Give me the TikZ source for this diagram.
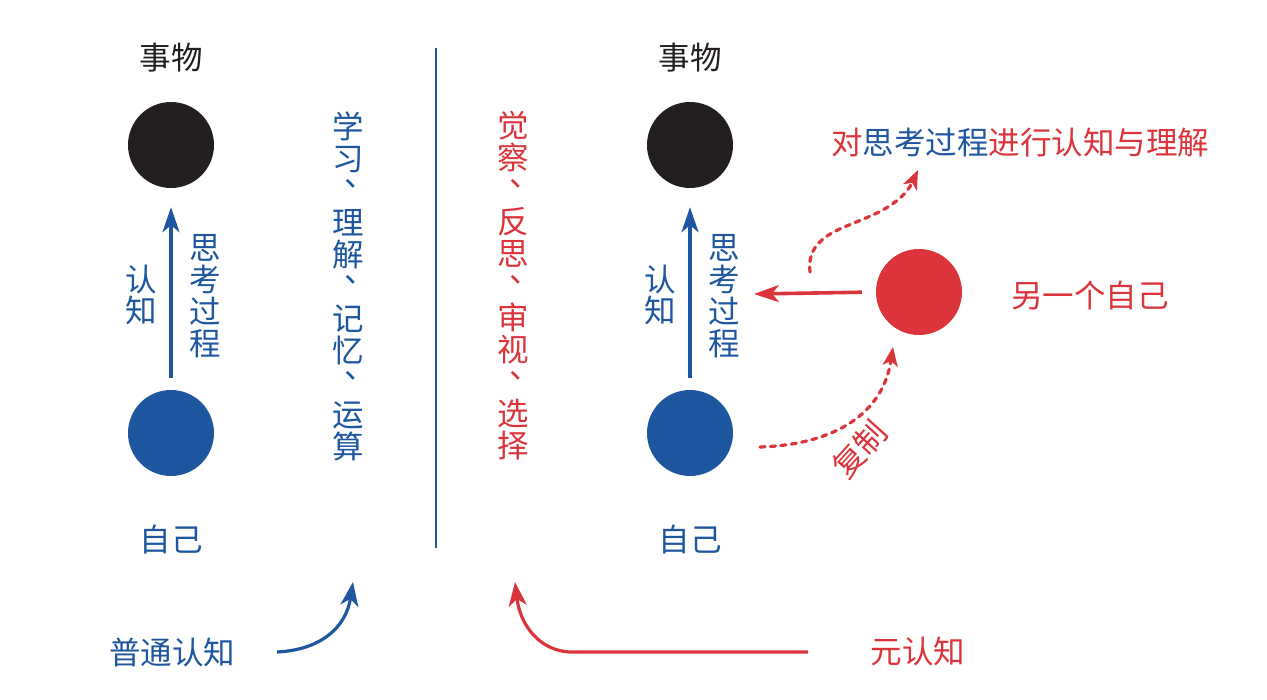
\documentclass[tikz,border=0pt]{standalone}
\usepackage{fontspec}
\setmainfont{Noto Sans CJK SC}
\usetikzlibrary{arrows.meta}
\definecolor{cblue}{RGB}{31,86,160}
\definecolor{cred}{RGB}{220,52,59}
\definecolor{cblack}{RGB}{35,31,32}
\newcommand\dunhao{\makebox[1em][l]{\hspace{0.4em}\raisebox{0.5em}{、}}}
\begin{document}
\begin{tikzpicture}[x=1pt,y=-1pt,
  dot/.style={circle,minimum size=86pt,inner sep=0pt,fill=#1},
  lbl/.style={font=\fontsize{31.5}{32}\selectfont,text=#1,inner sep=0pt,align=center},
  mainarrow/.style={draw=#1,line width=3.6pt,-{Stealth[length=25pt,width=17pt,inset=7pt]}},
  dotarrow/.style={draw=cred,line width=3.2pt,dash pattern=on 5pt off 5.5pt,line cap=round,-{Stealth[length=19pt,width=15pt,inset=5pt]}},
  curvearrow/.style={draw=#1,line width=3.2pt,-{Stealth[length=24pt,width=18pt,inset=7pt]}}]
\useasboundingbox (0,0) rectangle (1267,700);
\fill[white] (0,0) rectangle (1267,700);

% left panel
\node[dot=cblack] (thingL) at (171,145) {};
\node[dot=cblue] (selfL) at (171,433) {};
\node[lbl=cblack] (thingLt) at (171,58) {事物};
\node[lbl=cblue] (selfLt) at (171,540) {自己};
\draw[mainarrow=cblue,shorten <=12pt,shorten >=19pt] (selfL) -- (thingL);
\node[lbl=cblue] (cogL) at (141,295) {认\\知};
\node[lbl=cblue] (thinkL) at (205,296) {思\\考\\过\\程};
\node[lbl=cblue] (listL) at (348,286) {学\\习\\\dunhao\\理\\解\\\dunhao\\记\\忆\\\dunhao\\运\\算};

% divider
\coordinate (divT) at (436,48);
\coordinate (divB) at (436,548);
\draw[cblue,line width=2.2pt] (divT) -- (divB);

% right panel
\node[lbl=cred] (listR) at (513,286) {觉\\察\\\dunhao\\反\\思\\\dunhao\\审\\视\\\dunhao\\选\\择};
\node[dot=cblack] (thingR) at (690,145) {};
\node[dot=cblue] (selfR) at (690,433) {};
\node[lbl=cblack] (thingRt) at (690,58) {事物};
\node[lbl=cblue] (selfRt) at (690,540) {自己};
\draw[mainarrow=cblue,shorten <=12pt,shorten >=19pt] (selfR) -- (thingR);
\node[lbl=cblue] (cogR) at (660,295) {认\\知};
\node[lbl=cblue] (thinkR) at (724,296) {思\\考\\过\\程};

\node[dot=cred] (other) at (919,292) {};
\node[lbl=cred] (othert) at (1090,296) {另一个自己};
\coordinate (otherTip) at (754,294);
\draw[mainarrow=cred,shorten <=14pt] (other.west) -- (otherTip);

\node[lbl=cred] (meta) at (1020,143) {对{\color{cblue}思考过程}进行认知与理解};
\coordinate (upStart) at (810,272);
\coordinate (upTip) at (918,170);
\draw[dotarrow] (upStart) .. controls (806,238) and (838,230) .. (866,218)
  .. controls (890,208) and (906,196) .. (upTip);

\coordinate (cpStart) at (760,447);
\coordinate (cpTip) at (893,347);
\draw[dotarrow] (cpStart) .. controls (825,445) and (882,420) .. (cpTip);
\node[lbl=cred,rotate=48] (copy) at (860,449) {复制};

% bottom
\node[lbl=cblue] (normal) at (172,652) {普通认知};
\coordinate (nStart) at (277,652);
\coordinate (nTip) at (353,582);
\draw[curvearrow=cblue] (nStart) .. controls (320,650) and (346,628) .. (nTip);

\node[lbl=cred] (metaCog) at (918,652) {元认知};
\coordinate (mStart) at (808,652);
\coordinate (mMid) at (572,652);
\coordinate (mTip) at (515,582);
\draw[curvearrow=cred] (mStart) -- (mMid) .. controls (540,652) and (520,625) .. (mTip);
\end{tikzpicture}
\end{document}
